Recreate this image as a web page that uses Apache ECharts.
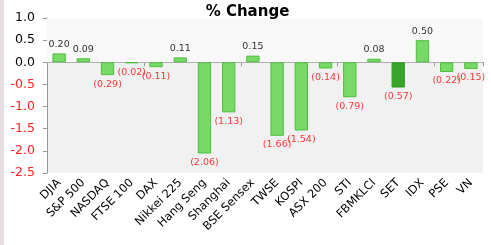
<!DOCTYPE html>
<html>
<head>
<meta charset="utf-8">
<script src="https://cdn.jsdelivr.net/npm/echarts@6/dist/echarts.min.js"></script>
<style>
html,body{margin:0;padding:0;background:#fff;}
#chart{width:491px;height:245px;border-left:4px solid #e6e0e0;box-sizing:border-box;}
</style>
</head>
<body>
<div id="chart"></div>
<script>
var categories = ['DJIA','S&P 500','NASDAQ','FTSE 100','DAX','Nikkei 225','Hang Seng','Shanghai','BSE Sensex','TWSE','KOSPI','ASX 200','STI','FBMKLCI','SET','IDX','PSE','VN'];
var changes = [0.20,0.09,-0.29,-0.02,-0.11,0.11,-2.06,-1.13,0.15,-1.66,-1.54,-0.14,-0.79,0.08,-0.57,0.50,-0.22,-0.15];
var highlight = 'SET';

var myChart = echarts.init(document.getElementById('chart'));

function fmt(v) {
    return v < 0 ? '(' + Math.abs(v).toFixed(2) + ')' : v.toFixed(2);
}

var barData = changes.map(function (v, i) {
    var dark = categories[i] === highlight;
    return {
        value: v,
        itemStyle: {
            color: dark ? '#37a629' : '#77d966',
            borderColor: dark ? '#2e9a22' : '#4cbf3a',
            borderWidth: 1
        },
        label: {
            position: v < 0 ? 'bottom' : 'top',
            color: v < 0 ? '#ff3636' : '#333'
        }
    };
});

var option = {
    animation: false,
    textStyle: {fontFamily: 'DejaVu Sans'},
    title: {
        text: '% Change',
        left: 'center',
        top: 0,
        textStyle: {fontSize: 15, fontWeight: 'bold', color: '#000', fontFamily: 'DejaVu Sans'}
    },
    grid: {
        left: 43, right: 8, top: 18, bottom: 72,
        show: true, backgroundColor: '#f1f1f1', borderWidth: 0
    },
    xAxis: [{
        type: 'category',
        data: categories,
        axisLine: {onZero: true, lineStyle: {color: '#999'}},
        axisTick: {show: true, length: 4, lineStyle: {color: '#999'}},
        axisLabel: {show: false}
    }, {
        type: 'category',
        data: categories,
        position: 'bottom',
        axisLine: {show: false},
        axisTick: {show: false},
        axisLabel: {
            rotate: 45, fontSize: 11.5, color: '#000', margin: 8,
            interval: 0, fontFamily: 'DejaVu Sans'
        }
    }],
    yAxis: {
        type: 'value',
        min: -2.5, max: 1.0, interval: 0.5,
        splitLine: {show: false},
        axisLine: {show: true, lineStyle: {color: '#999'}},
        axisTick: {show: true, length: 4, lineStyle: {color: '#999'}},
        axisLabel: {
            fontSize: 12.5, margin: 12,
            formatter: function (v) { return v.toFixed(1); },
            color: function (v) { return v < 0 ? '#ff2020' : '#000'; }
        }
    },
    series: [{
        type: 'bar',
        xAxisIndex: 0,
        data: barData,
        barWidth: '55%',
        label: {
            show: true,
            fontSize: 9.5,
            distance: 4,
            formatter: function (p) { return fmt(p.value); }
        },
        markArea: {
            silent: true,
            itemStyle: {color: '#f8f8f8'},
            data: [[{yAxis: 0}, {yAxis: 1}]]
        }
    }]
};
myChart.setOption(option);
</script>
</body>
</html>
